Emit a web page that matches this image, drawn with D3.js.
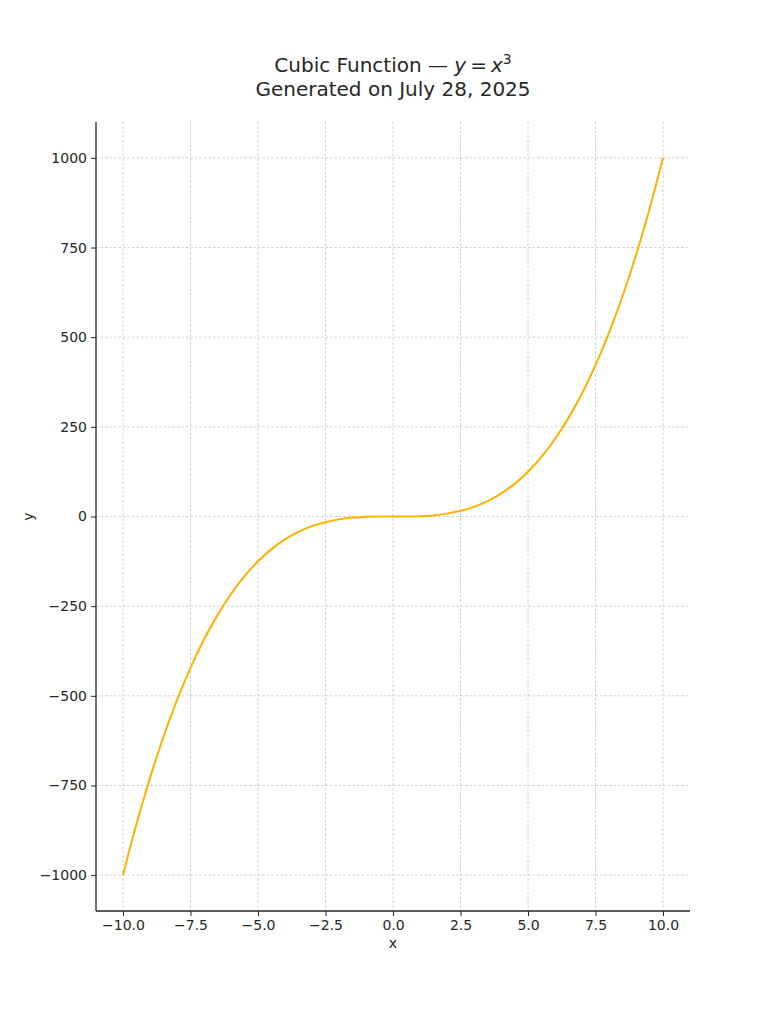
<!DOCTYPE html>
<html>
<head>
<meta charset="utf-8">
<script src="https://cdn.jsdelivr.net/npm/d3@7"></script>
<style>
  body { margin: 0; background: #fff; }
  text { font-family: "DejaVu Sans", sans-serif; fill: #262626; }
</style>
</head>
<body>
<svg id="chart" width="768" height="1024"></svg>
<script>
// values
const xValues = [-10, -9.5, -9, -8.5, -8, -7.5, -7, -6.5, -6, -5.5, -5, -4.5, -4, -3.5, -3, -2.5, -2, -1.5, -1, -0.5,
  0, 0.5, 1, 1.5, 2, 2.5, 3, 3.5, 4, 4.5, 5, 5.5, 6, 6.5, 7, 7.5, 8, 8.5, 9, 9.5, 10];
const yValues = [-1000, -857, -729, -614, -512, -422, -343, -275, -216, -166, -125, -91, -64, -43, -27, -16, -8, -3, -1, -0.1,
  0, 0.1, 1, 3, 8, 16, 27, 43, 64, 91, 125, 166, 216, 275, 343, 422, 512, 614, 729, 857, 1000];
const xTicks = [-10, -7.5, -5, -2.5, 0, 2.5, 5, 7.5, 10];
const yTicks = [-1000, -750, -500, -250, 0, 250, 500, 750, 1000];

const margins = { top: 122, left: 96, right: 78, bottom: 113 };
const width = 768, height = 1024;

const svg = d3.select('#chart');
const x = d3.scaleLinear().domain([-11, 11]).range([margins.left, width - margins.right]);
const y = d3.scaleLinear().domain([-1100, 1100]).range([height - margins.bottom, margins.top]);

const minus = s => s.replace('-', '\u2212');

// grid
const grid = svg.append('g').attr('class', 'grid');
grid.selectAll('.gx').data(xTicks).enter().append('line')
  .attr('x1', d => x(d)).attr('x2', d => x(d))
  .attr('y1', y.range()[1]).attr('y2', y.range()[0])
  .attr('stroke', '#c4c4c4').attr('stroke-width', 0.8).attr('stroke-dasharray', '2.5,2');
grid.selectAll('.gy').data(yTicks).enter().append('line')
  .attr('y1', d => y(d)).attr('y2', d => y(d))
  .attr('x1', x.range()[0]).attr('x2', x.range()[1])
  .attr('stroke', '#c4c4c4').attr('stroke-width', 0.8).attr('stroke-dasharray', '2.5,2');

// curve
const points = xValues.map((v, i) => [v, yValues[i]]);
svg.append('path')
  .datum(points)
  .attr('fill', 'none')
  .attr('stroke', '#ffb000')
  .attr('stroke-width', 2)
  .attr('d', d3.line().x(d => x(d[0])).y(d => y(d[1])).curve(d3.curveMonotoneX));

// axes
const xAxis = d3.axisBottom(x).tickValues(xTicks).tickSize(5).tickPadding(4)
  .tickFormat(d => minus(d3.format('.1f')(d)));
const yAxis = d3.axisLeft(y).tickValues(yTicks).tickSize(5).tickPadding(4)
  .tickFormat(d => minus(String(d)));

const gx = svg.append('g')
  .attr('transform', 'translate(0,' + y.range()[0] + ')')
  .call(xAxis);
const gy = svg.append('g')
  .attr('transform', 'translate(' + x.range()[0] + ',0)')
  .call(yAxis);

[gx, gy].forEach(g => {
  g.select('.domain').attr('stroke', '#262626').attr('stroke-width', 1.3);
  g.selectAll('.tick line').attr('stroke', '#262626').attr('stroke-width', 1);
  g.selectAll('.tick text').attr('font-size', 14).attr('font-family', '"DejaVu Sans", sans-serif').attr('fill', '#262626');
});
// the axes only span their range, no end ticks
gx.select('.domain').attr('d', 'M' + x.range()[0] + ',0H' + x.range()[1]);
gy.select('.domain').attr('d', 'M0,' + y.range()[0] + 'V' + y.range()[1]);

// axis labels
svg.append('text')
  .attr('x', (x.range()[0] + x.range()[1]) / 2)
  .attr('y', 948)
  .attr('text-anchor', 'middle')
  .attr('font-size', 14)
  .text('x');
svg.append('text')
  .attr('transform', 'translate(33,' + y(0) + ') rotate(-90)')
  .attr('text-anchor', 'middle')
  .attr('font-size', 14)
  .text('y');

// title
const cx = (x.range()[0] + x.range()[1]) / 2;
const t1 = svg.append('text')
  .attr('x', cx).attr('y', 72)
  .attr('text-anchor', 'middle')
  .attr('font-size', 20)
  .attr('fill', '#333');
t1.append('tspan').text('Cubic Function \u2014 ');
t1.append('tspan').attr('font-style', 'italic').text('y');
t1.append('tspan').text('\u2009=\u2009');
t1.append('tspan').attr('font-style', 'italic').text('x');
t1.append('tspan').attr('font-size', 14).attr('dy', -8).text('3');

svg.append('text')
  .attr('x', cx).attr('y', 96)
  .attr('text-anchor', 'middle')
  .attr('font-size', 20)
  .attr('fill', '#333')
  .text('Generated on July 28, 2025');
</script>
</body>
</html>
